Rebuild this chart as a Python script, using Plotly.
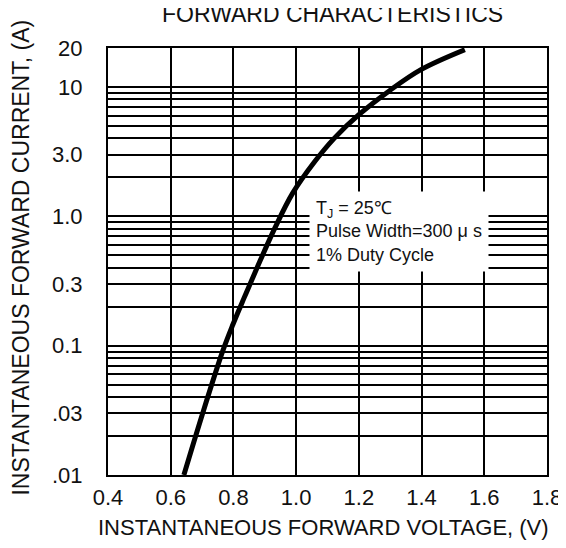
import plotly.graph_objects as go

# Curve (forward voltage V, forward current A)
voltage = [0.642, 0.700, 0.766, 0.798, 0.834, 0.875, 0.932, 0.989, 1.060, 1.122, 1.200, 1.300, 1.398, 1.538]
current = [0.01, 0.029, 0.091, 0.145, 0.234, 0.398, 0.81, 1.51, 2.66, 4.02, 6.1, 9.44, 13.6, 19.4]

x_ticks = [0.4, 0.6, 0.8, 1.0, 1.2, 1.4, 1.6, 1.8]
x_labels = ["0.4", "0.6", "0.8", "1.0", "1.2", "1.4", "1.6", "1.8"]

y_ticks = [0.01, 0.03, 0.1, 0.3, 1, 3, 10, 20]
y_labels = [".01", ".03", "0.1", "0.3", "1.0", "3.0", "10", "20"]
y_minor_grid = [0.02, 0.04, 0.05, 0.06, 0.07, 0.08, 0.09,
                0.2, 0.4, 0.5, 0.6, 0.7, 0.8, 0.9,
                2, 4, 5, 6, 7, 8, 9]

FONT = "Liberation Sans, Arial, sans-serif"
INK = "#111111"

fig = go.Figure()
fig.add_trace(go.Scatter(
    x=voltage, y=current, mode="lines",
    line=dict(color="black", width=5, shape="spline", smoothing=1.0),
    showlegend=False, hoverinfo="x+y",
))

fig.update_layout(
    width=566, height=548,
    margin=dict(l=100, r=17, t=40, b=81),
    paper_bgcolor="white", plot_bgcolor="white",
    font=dict(family=FONT, color=INK),
    xaxis=dict(
        range=[0.4, 1.8], tickvals=x_ticks, ticktext=x_labels,
        showgrid=True, gridcolor="black", gridwidth=2,
        showline=True, linecolor="black", linewidth=2, mirror=True,
        ticks="", tickfont=dict(size=22, color=INK),
        ticklabelstandoff=2, zeroline=False, fixedrange=True,
    ),
    yaxis=dict(
        type="log", range=[-2, 1.30103], tickvals=y_ticks, ticktext=y_labels,
        showgrid=True, gridcolor="black", gridwidth=2,
        minor=dict(tickvals=y_minor_grid, showgrid=True, gridcolor="black",
                   gridwidth=2, ticks=""),
        showline=True, linecolor="black", linewidth=2, mirror=True,
        ticks="", tickfont=dict(size=22, color=INK),
        ticklabelstandoff=19, zeroline=False, fixedrange=True,
    ),
    annotations=[
        dict(text="FORWARD CHARACTERISTICS",
             xref="paper", yref="paper", x=0.511, y=1.044,
             xanchor="center", yanchor="bottom", showarrow=False,
             font=dict(size=23, family=FONT, color=INK)),
        dict(text="T<sub>J</sub> = 25℃<br>Pulse Width=300 μ s<br>1% Duty Cycle",
             xref="paper", yref="paper", x=0.457, y=0.665,
             xanchor="left", yanchor="top", align="left", showarrow=False,
             bgcolor="white", borderpad=6,
             font=dict(size=18, family=FONT, color=INK)),
        dict(text="INSTANTANEOUS FORWARD VOLTAGE, (V)",
             xref="paper", yref="paper", x=0.49, y=-0.122,
             xanchor="center", yanchor="middle", showarrow=False,
             font=dict(size=22, family=FONT, color=INK)),
        dict(text="INSTANTANEOUS FORWARD CURRENT, (A)",
             xref="paper", yref="paper", x=-0.197, y=0.508, textangle=-90,
             xanchor="center", yanchor="middle", showarrow=False,
             font=dict(size=23, family=FONT, color=INK)),
    ],
)

fig.write_html("out.html")
